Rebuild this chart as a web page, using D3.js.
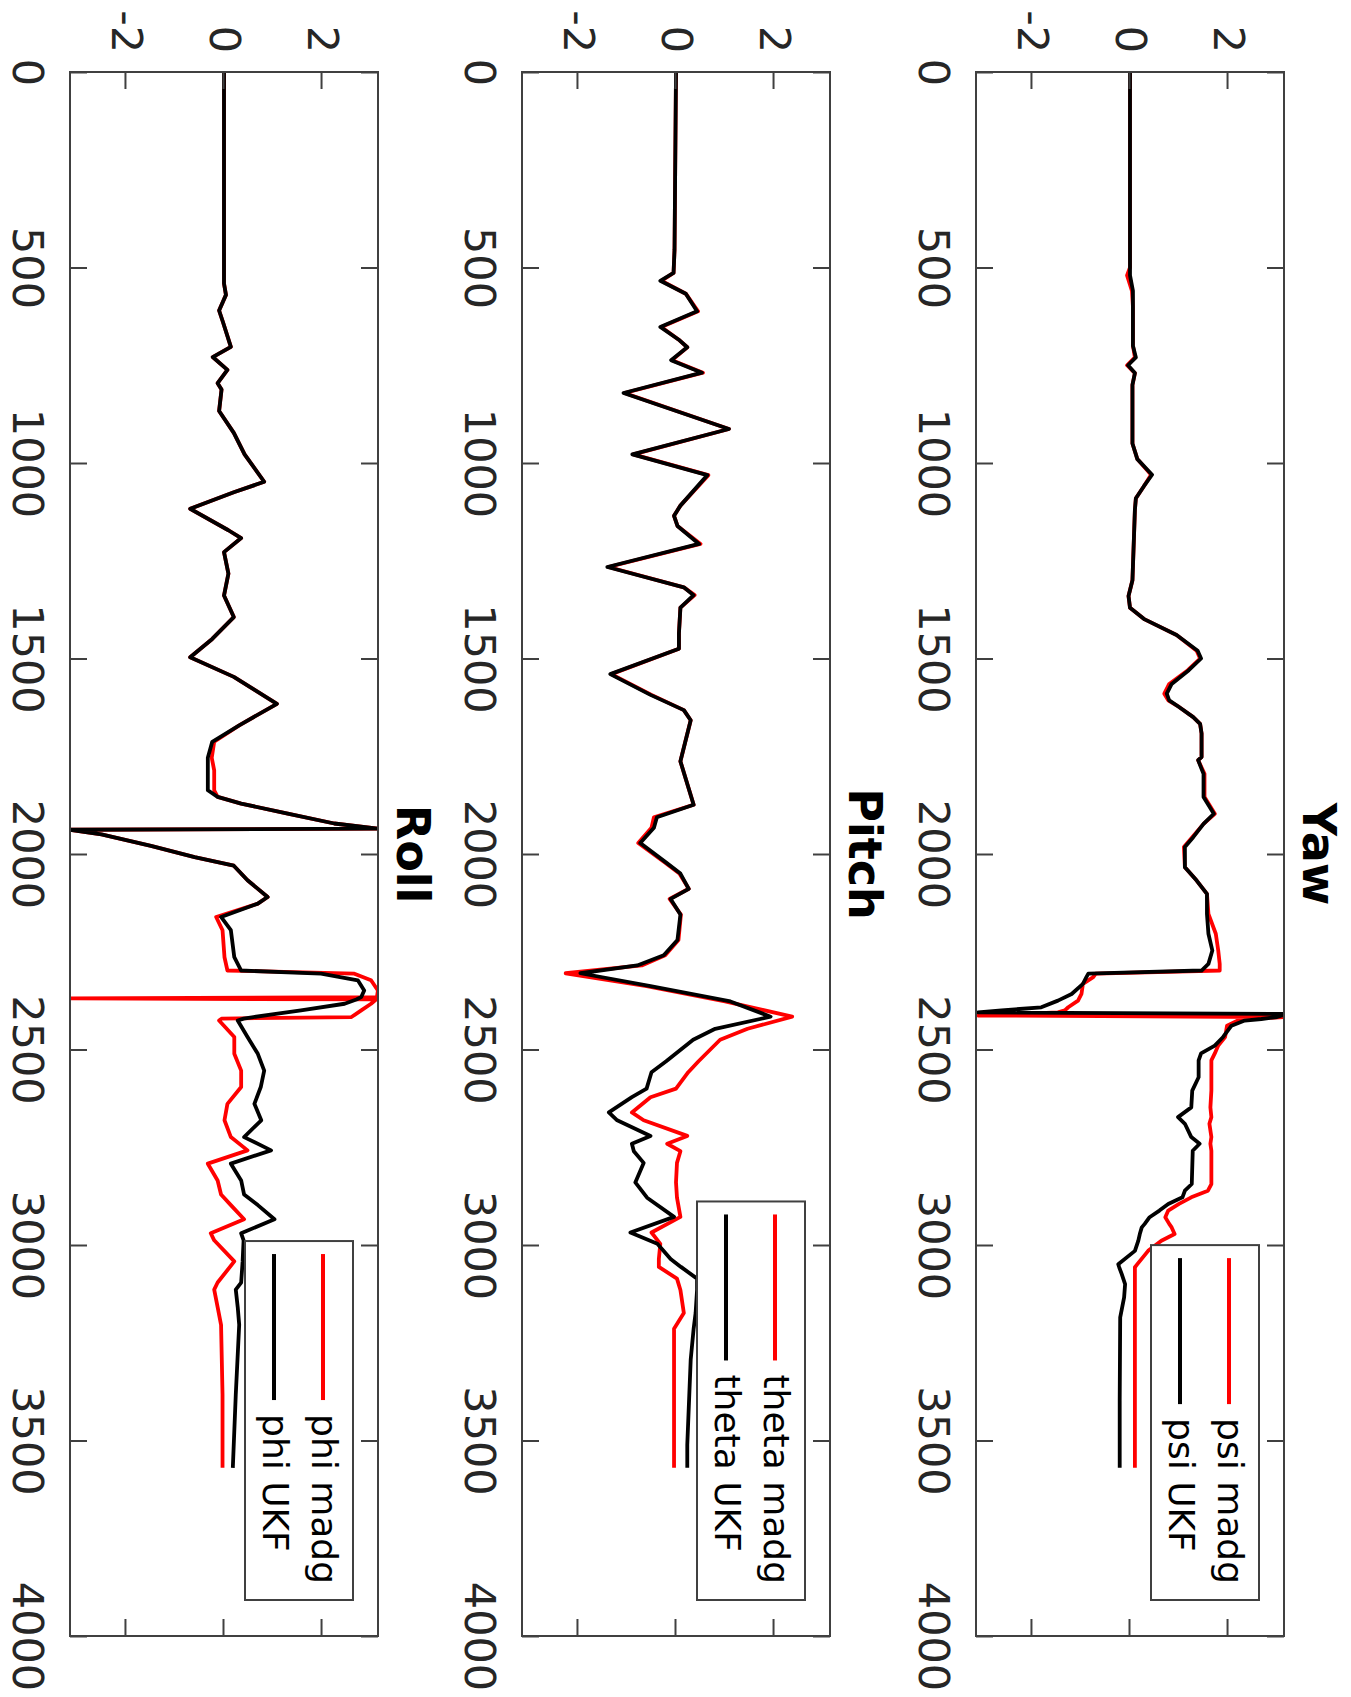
<!DOCTYPE html>
<html>
<head>
<meta charset="utf-8">
<script src="https://cdn.jsdelivr.net/npm/d3@7"></script>
<style>
body { margin: 0; background: #fff; }
text { font-family: "DejaVu Sans", sans-serif; }
</style>
</head>
<body>
<svg id="chart"></svg>
<script>
// sample index for each panel
const yawX = [0, 500, 520, 560, 600, 700, 730, 750, 770, 800, 950, 990, 1030, 1060, 1090, 1120, 1300, 1340, 1370, 1400,
    1440, 1480, 1500, 1530, 1565, 1590, 1607, 1624, 1650, 1667, 1692, 1752, 1760, 1795, 1854, 1897, 1923, 1957, 1982, 2034,
    2068, 2102, 2153, 2204, 2247, 2281, 2298, 2306, 2315, 2332, 2358, 2375, 2392, 2400, 2405, 2409, 2413, 2417, 2422, 2426,
    2439, 2468, 2490, 2510, 2528, 2571, 2605, 2648, 2673, 2690, 2724, 2741, 2759, 2844, 2861, 2878, 2895, 2912, 2929, 2946,
    2955, 2972, 2989, 3015, 3049, 3057, 3074, 3100, 3134, 3185, 3398, 3570];
const yawUkf = [0, 0, 0, 0.06, 0.06, 0.06, 0.12, -0.04, 0.1, 0.05, 0.05, 0.15, 0.45, 0.28, 0.12, 0.1, 0.05, -0.03, 0.0, 0.3,
    0.95, 1.38, 1.45, 1.2, 0.85, 0.75, 0.8, 1.0, 1.29, 1.43, 1.46, 1.46, 1.39, 1.5, 1.5, 1.71, 1.5, 1.29, 1.12, 1.12,
    1.36, 1.57, 1.57, 1.6, 1.68, 1.6, 1.46, -0.85, -0.89, -0.96, -1.19, -1.47, -1.81, -2.62, -3.1, 3.14, 3.1, 3.0, 2.68, 2.34,
    2.07, 1.9, 1.73, 1.45, 1.4, 1.4, 1.27, 1.25, 0.98, 1.12, 1.25, 1.42, 1.28, 1.26, 1.12, 1.07, 0.78, 0.6, 0.4, 0.3,
    0.24, 0.2, 0.17, 0.1, -0.24, -0.22, -0.17, -0.1, -0.12, -0.2, -0.21, -0.21];
const yawMadg = [0, 0, -0.06, 0.04, 0.06, 0.06, 0.1, -0.06, 0.1, 0.05, 0.05, 0.15, 0.43, 0.28, 0.12, 0.1, 0.05, -0.03, 0.0, 0.3,
    0.95, 1.36, 1.43, 1.18, 0.8, 0.7, 0.78, 1.0, 1.29, 1.43, 1.46, 1.46, 1.39, 1.52, 1.52, 1.73, 1.5, 1.27, 1.1, 1.12,
    1.36, 1.57, 1.6, 1.75, 1.8, 1.83, 1.83, -0.7, -0.75, -0.96, -0.99, -1.06, -1.26, -1.33, -1.47, -2.2, -3.1, 3.14, 2.34, 2.2,
    1.98, 1.94, 1.8, 1.73, 1.66, 1.66, 1.66, 1.64, 1.66, 1.62, 1.66, 1.64, 1.66, 1.66, 1.59, 1.25, 1.0, 0.78, 0.72, 0.8,
    0.85, 0.91, 0.64, 0.37, 0.15, 0.1, 0.1, 0.1, 0.1, 0.1, 0.1, 0.1];

const pitchX = [0, 455, 514, 534, 567, 612, 652, 684, 704, 737, 769, 821, 913, 978, 1031, 1109, 1135, 1161, 1207, 1266,
    1318, 1338, 1370, 1436, 1475, 1540, 1593, 1632, 1658, 1763, 1874, 1906, 1933, 1972, 2024, 2050, 2089, 2115, 2155, 2220,
    2259, 2285, 2305, 2338, 2377, 2416, 2447, 2475, 2530, 2558, 2600, 2622, 2661, 2681, 2721, 2741, 2760, 2790, 2840, 2879,
    2928, 2968, 2997, 3036, 3056, 3086, 3115, 3174, 3214, 3293, 3511, 3570];
const pitchUkf = [0, -0.03, -0.05, -0.32, 0.2, 0.43, -0.32, 0.05, 0.23, -0.1, 0.53, -1.07, 1.08, -0.89, 0.64, 0.09, -0.04, 0.03, 0.47, -1.4,
    0.16, 0.36, 0.09, 0.06, 0.06, -1.34, -0.52, 0.16, 0.3, 0.09, 0.36, -0.39, -0.45, -0.73, -0.18, 0.09, 0.26, -0.11, 0.09, 0.03,
    -0.25, -0.79, -1.95, -0.52, 1.11, 1.93, 0.8, 0.35, -0.2, -0.5, -0.6, -0.9, -1.37, -1.2, -0.52, -0.9, -0.86, -0.66, -0.83, -0.59,
    -0.04, -0.93, -0.38, -0.11, 0.1, 0.43, 0.43, 0.4, 0.36, 0.3, 0.23, 0.23];
const pitchMadg = [0, -0.03, -0.05, -0.3, 0.2, 0.45, -0.3, 0.05, 0.23, -0.08, 0.55, -1.05, 1.08, -0.87, 0.66, 0.09, -0.04, 0.03, 0.5, -1.38,
    0.16, 0.38, 0.09, 0.06, 0.06, -1.32, -0.5, 0.16, 0.3, 0.09, 0.36, -0.45, -0.5, -0.77, -0.2, 0.07, 0.26, -0.13, 0.1, 0.05,
    -0.22, -0.7, -2.25, -0.6, 1.0, 2.37, 1.46, 0.9, 0.46, 0.25, 0.0, -0.52, -0.9, -0.66, 0.23, -0.18, 0.09, 0.02, 0.0, 0.02,
    0.09, -0.5, -0.32, -0.35, -0.35, 0.02, 0.09, 0.16, -0.04, -0.04, -0.04, -0.04];

const rollX = [0, 541, 570, 610, 640, 703, 729, 762, 796, 812, 867, 923, 978, 1048, 1075, 1117, 1172, 1192, 1228, 1283,
    1339, 1394, 1450, 1497, 1547, 1616, 1671, 1713, 1754, 1786, 1837, 1854, 1871, 1897, 1922, 1935, 1938, 1950, 1979, 2008,
    2030, 2067, 2110, 2127, 2161, 2195, 2264, 2298, 2306, 2323, 2349, 2366, 2369, 2372, 2383, 2400, 2417, 2421, 2426, 2468,
    2511, 2554, 2596, 2639, 2681, 2724, 2758, 2792, 2835, 2871, 2898, 2934, 2970, 2988, 3042, 3096, 3114, 3159, 3204, 3383,
    3570];
const rollUkf = [0, 0, 0.04, -0.1, -0.02, 0.14, -0.23, 0.07, -0.13, -0.05, -0.1, 0.2, 0.42, 0.82, 0.2, -0.69, 0.09, 0.35, 0.0, 0.09,
    0.0, 0.2, -0.24, -0.69, 0.2, 1.08, 0.31, -0.24, -0.33, -0.33, -0.33, -0.13, 0.35, 1.3, 2.25, 3.14, -3.14, -2.5, -1.49, -0.6,
    0.2, 0.48, 0.89, 0.69, -0.06, 0.14, 0.21, 0.35, 1.98, 2.73, 2.86, 2.8, 2.75, 2.7, 2.46, 1.57, 0.6, 0.4, 0.28, 0.48,
    0.69, 0.82, 0.75, 0.62, 0.76, 0.41, 0.96, 0.14, 0.35, 0.41, 0.69, 1.03, 0.35, 0.4, 0.38, 0.35, 0.24, 0.28, 0.31, 0.24,
    0.18];
const rollMadg = [0, 0, 0.04, -0.1, -0.02, 0.14, -0.23, 0.07, -0.13, -0.05, -0.1, 0.2, 0.42, 0.82, 0.2, -0.69, 0.09, 0.35, 0.0, 0.09,
    0.0, 0.2, -0.24, -0.69, 0.2, 1.08, 0.31, -0.2, -0.25, -0.2, -0.2, -0.13, 0.35, 1.3, 2.25, 3.14, -3.14, -2.5, -1.49, -0.6,
    0.2, 0.48, 0.89, 0.69, -0.16, -0.03, 0.01, 0.07, 2.66, 3.0, 3.14, 3.12, -3.14, 3.1, 3.0, 2.8, 2.6, -0.05, -0.1, 0.21,
    0.21, 0.35, 0.35, 0.07, 0.01, 0.14, 0.48, -0.33, -0.13, -0.06, 0.14, 0.41, -0.27, -0.2, 0.21, -0.13, -0.2, -0.13, -0.06, -0.03,
    -0.03];

const titles = ["Yaw", "Pitch", "Roll"];
const legendNames = [["psi madg", "psi UKF"], ["theta madg", "theta UKF"], ["phi madg", "phi UKF"]];
const xTicks = [0, 500, 1000, 1500, 2000, 2500, 3000, 3500, 4000];
const yTicks = [-2, 0, 2];

let panels = [
    {x: yawX, madg: yawMadg, ukf: yawUkf},
    {x: pitchX, madg: pitchMadg, ukf: pitchUkf},
    {x: rollX, madg: rollMadg, ukf: rollUkf}
];

let pageWidth = 1351
let pageHeight = 1697

// figure is laid out landscape, then turned a quarter turn clockwise
let plotLeft = 72
let plotRight = 1636
let panelHeight = 308
let panelTops = [67, 521, 973]
let tickLen = 17

// plain labels, ascii hyphen for negatives like the original
let plainFormat = function(d) { return String(d); }

let svg = d3.select("#chart")
    .attr("width", pageWidth)
    .attr("height", pageHeight);

let fig = svg.append("g")
    .attr("transform", "translate(" + pageWidth + ",0) rotate(90)");

let xScale = d3.scaleLinear().domain([0, 4000]).range([plotLeft, plotRight]);

panels.forEach(function(p, k) {
    let top = panelTops[k]
    let bottom = top + panelHeight
    let yScale = d3.scaleLinear().domain([-Math.PI, Math.PI]).range([bottom, top]);

    let g = fig.append("g").attr("class", "panel");

    g.append("clipPath")
        .attr("id", "clip" + k)
        .append("rect")
        .attr("x", plotLeft)
        .attr("y", top)
        .attr("width", plotRight - plotLeft)
        .attr("height", panelHeight);

    let line = function(vals) {
        return d3.line()
            .x(function(d, i) { return xScale(p.x[i]); })
            .y(function(d) { return yScale(d); })(vals);
    }

    let lines = g.append("g").attr("clip-path", "url(#clip" + k + ")");
    lines.append("path")
        .attr("d", line(p.madg))
        .attr("fill", "none")
        .attr("stroke", "#ff0000")
        .attr("stroke-width", 3.8)
        .attr("stroke-linejoin", "round");
    lines.append("path")
        .attr("d", line(p.ukf))
        .attr("fill", "none")
        .attr("stroke", "#000000")
        .attr("stroke-width", 3.8)
        .attr("stroke-linejoin", "round");

    // axes, ticks pointing inward on all four sides
    g.append("g")
        .attr("transform", "translate(0," + bottom + ")")
        .call(d3.axisBottom(xScale).tickValues(xTicks).tickFormat(plainFormat).tickSize(-tickLen).tickPadding(26));
    g.append("g")
        .attr("transform", "translate(0," + top + ")")
        .call(d3.axisTop(xScale).tickValues(xTicks).tickSize(-tickLen).tickFormat(""));
    g.append("g")
        .attr("transform", "translate(" + plotLeft + ",0)")
        .call(d3.axisLeft(yScale).tickValues(yTicks).tickFormat(plainFormat).tickSize(-tickLen).tickPadding(19));
    g.append("g")
        .attr("transform", "translate(" + plotRight + ",0)")
        .call(d3.axisRight(yScale).tickValues(yTicks).tickSize(-tickLen).tickFormat(""));

    g.selectAll(".domain").remove();
    g.selectAll(".tick line").attr("stroke", "#404040").attr("stroke-width", 2);
    g.selectAll(".tick text")
        .attr("fill", "#262626")
        .attr("font-size", 43)
        .attr("font-family", "DejaVu Sans");

    g.append("rect")
        .attr("x", plotLeft)
        .attr("y", top)
        .attr("width", plotRight - plotLeft)
        .attr("height", panelHeight)
        .attr("fill", "none")
        .attr("stroke", "#404040")
        .attr("stroke-width", 2);

    g.append("text")
        .text(titles[k])
        .attr("x", (plotLeft + plotRight) / 2)
        .attr("y", top - 19)
        .attr("text-anchor", "middle")
        .attr("font-size", 46)
        .attr("font-weight", "bold")
        .attr("fill", "#000");

    // legend, sized from its text
    let lg = g.append("g");
    let boxTop = top + 25
    let boxRight = plotRight - 36
    let texts = legendNames[k].map(function(name, i) {
        return lg.append("text")
            .text(name)
            .attr("font-size", 36)
            .attr("fill", "#000")
            .attr("y", boxTop + 30 + i * 49 + 11);
    });
    let textW = d3.max(texts, function(t) { return t.node().getComputedTextLength(); });
    let textStart = boxRight - 16 - textW
    let lineEnd = textStart - 14
    let lineStart = lineEnd - 146
    let boxLeft = lineStart - 13
    texts.forEach(function(t) { t.attr("x", textStart); });
    ["#ff0000", "#000000"].forEach(function(c, i) {
        lg.append("line")
            .attr("x1", lineStart)
            .attr("x2", lineEnd)
            .attr("y1", boxTop + 30 + i * 49)
            .attr("y2", boxTop + 30 + i * 49)
            .attr("stroke", c)
            .attr("stroke-width", 4);
    });
    lg.insert("rect", ":first-child")
        .attr("x", boxLeft)
        .attr("y", boxTop)
        .attr("width", boxRight - boxLeft)
        .attr("height", 108)
        .attr("fill", "#fff")
        .attr("stroke", "#404040")
        .attr("stroke-width", 2);
});
</script>
</body>
</html>
